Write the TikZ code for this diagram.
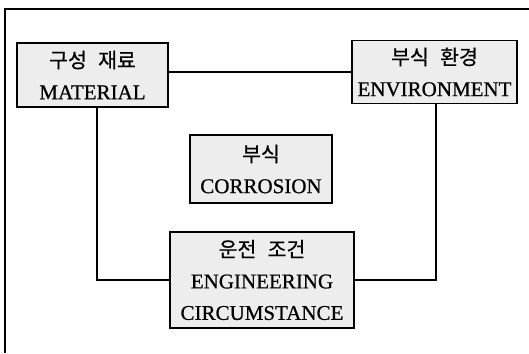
\documentclass[tikz,border=0pt]{standalone}
\usepackage{fontspec}
\setmainfont{Liberation Serif}[FakeBold=0.7]
\newfontfamily\kr{Noto Sans CJK KR}[FakeBold=0.5]
\newcommand\krs[1]{{\kr\fontsize{20.5}{20.5}\selectfont #1}}
\newcommand\ksp{\hspace{0.55em}}
\begin{document}
\begin{tikzpicture}[x=1pt,y=-1pt,
  box/.style={draw=black,line width=1.1pt,fill=black!7,align=center,inner sep=0pt,
    font=\fontsize{21}{31.5}\selectfont},
  conn/.style={line width=2pt},
]
\useasboundingbox (0,0) rectangle (529,353);
% frame (left and top edges visible)
\draw[line width=2pt] (5,353) -- (5,9) -- (529,9);
\node[box,minimum width=151pt,minimum height=64pt] (mat) at (92.5,75)
  {\krs{구성\ksp 재료}\\ MATERIAL};
\node[box,minimum width=165pt,minimum height=63pt] (env) at (434.5,72)
  {\krs{부식\ksp 환경}\\ ENVIRONMENT};
\node[box,minimum width=142pt,minimum height=68pt] (cor) at (261,169)
  {\krs{부식}\\ CORROSION};
\node[box,minimum width=184pt,minimum height=96pt] (eng) at (262,280)
  {\krs{운전\ksp 조건}\\ ENGINEERING\\ CIRCUMSTANCE};
\draw[conn] (mat.east |- env.west) -- (env.west);
\draw[conn] ([xshift=4.5pt]mat.south) |- (eng.west);
\draw[conn] ([xshift=1.5pt]env.south) |- (eng.east);
\end{tikzpicture}
\end{document}
